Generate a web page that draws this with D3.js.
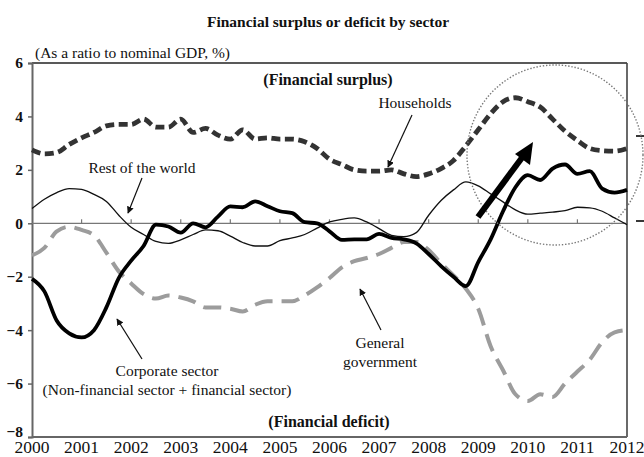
<!DOCTYPE html>
<html>
<head>
<meta charset="utf-8">
<script src="https://cdn.jsdelivr.net/npm/d3@7"></script>
<style>
  body { margin: 0; background: #fff; }
  svg text { font-family: 'Liberation Serif', 'Times New Roman', 'DejaVu Serif', serif !important; fill: #111; }
  .title { font-weight: bold; font-size: 15.5px; }
  .bold { font-weight: bold; font-size: 16px; }
  .note { font-size: 15.5px; }
  .ylab { font-weight: bold; font-size: 15.5px; }
  .xlab { font-size: 17.5px; }
</style>
</head>
<body>
<svg width="644" height="457"></svg>
<script>
// **** Data (quarterly, 2000 Q1 - 2012 Q1), % of nominal GDP ****
var years = [2000, 2001, 2002, 2003, 2004, 2005, 2006, 2007, 2008, 2009, 2010, 2011, 2012];
var yTicks = [-8, -6, -4, -2, 0, 2, 4, 6];

var households = [2.75, 2.6, 2.65, 2.95, 3.2, 3.4, 3.65, 3.7, 3.7, 3.9, 3.6, 3.6, 3.9,
  3.4, 3.55, 3.3, 3.15, 3.5, 3.15, 3.2, 3.15, 3.15, 3.05, 2.8, 2.4, 2.2, 2.0, 1.95,
  1.95, 2.0, 1.85, 1.75, 1.85, 2.05, 2.35, 2.9, 3.5, 4.1, 4.55, 4.7, 4.55, 4.35,
  3.9, 3.45, 3.1, 2.8, 2.72, 2.7, 2.8];

var restOfWorld = [0.55, 0.9, 1.15, 1.3, 1.27, 1.08, 0.82, 0.3, -0.15, -0.42, -0.68,
  -0.75, -0.62, -0.42, -0.25, -0.28, -0.48, -0.72, -0.85, -0.85, -0.65, -0.55, -0.42,
  -0.18, 0.05, 0.15, 0.2, 0.05, -0.2, -0.45, -0.5, -0.35, 0.3, 0.85, 1.25, 1.55, 1.4,
  1.1, 0.8, 0.5, 0.34, 0.38, 0.42, 0.47, 0.6, 0.58, 0.45, 0.2, -0.05];

var corporate = [-2.08, -2.55, -3.65, -4.12, -4.27, -4.0, -3.15, -2.05, -1.4, -0.85,
  -0.05, -0.12, -0.35, 0.0, -0.15, 0.25, 0.63, 0.6, 0.82, 0.64, 0.45, 0.38, 0.04, 0.0,
  -0.3, -0.62, -0.6, -0.6, -0.4, -0.55, -0.6, -0.75, -1.15, -1.6, -2.0, -2.35, -1.45,
  -0.6, 0.45, 1.35, 1.8, 1.62, 2.05, 2.2, 1.85, 1.95, 1.3, 1.15, 1.25];

var government = [-1.2, -0.92, -0.3, -0.13, -0.25, -0.45, -1.1, -1.8, -2.25, -2.65,
  -2.82, -2.7, -2.78, -2.92, -3.15, -3.15, -3.2, -3.3, -3.05, -2.92, -2.92, -2.92,
  -2.7, -2.4, -2.05, -1.65, -1.42, -1.3, -1.15, -0.92, -0.7, -0.7, -1.0, -1.5, -1.95,
  -2.45, -3.2, -4.6, -5.5, -6.4, -6.65, -6.4, -6.5, -6.0, -5.55, -5.1, -4.45, -4.08, -4.0];

// **** Scales ****
var xScale = d3.scaleLinear().domain([2000, 2012]).range([32, 627]);
var yScale = d3.scaleLinear().domain([-8, 6]).range([437, 63]);

var svg = d3.select('svg');

svg.append('defs').append('marker')
  .attr('id', 'arr')
  .attr('viewBox', '0 0 10 10')
  .attr('refX', 9).attr('refY', 5)
  .attr('markerWidth', 7).attr('markerHeight', 7)
  .attr('markerUnits', 'userSpaceOnUse')
  .attr('orient', 'auto')
  .append('path').attr('d', 'M0,0 L10,5 L0,10 z').attr('fill', '#111');

function qx(d, i) { return xScale(2000 + i * 0.25); }

// frame: top and right black, left/bottom grey
svg.append('line').attr('x1', 32).attr('x2', 627).attr('y1', 63).attr('y2', 63)
  .attr('stroke', '#222').attr('stroke-width', 1.6);
svg.append('line').attr('x1', 627).attr('x2', 627).attr('y1', 63).attr('y2', 437)
  .attr('stroke', '#444').attr('stroke-width', 1.6);
svg.append('line').attr('x1', 32).attr('x2', 627).attr('y1', 437).attr('y2', 437)
  .attr('stroke', '#666').attr('stroke-width', 2);

// y axis
var yAxis = svg.append('g').attr('class', 'y axis')
  .attr('transform', 'translate(32,0)')
  .call(d3.axisLeft(yScale).tickValues(yTicks).tickSize(4).tickPadding(5));
yAxis.attr('font-family', null).attr('font-size', null);
yAxis.select('.domain').attr('stroke', '#666').attr('stroke-width', 2);
yAxis.selectAll('.tick line').attr('stroke', '#666').attr('stroke-width', 1.5);
yAxis.selectAll('text').attr('class', 'ylab');
yAxis.selectAll('.tick').filter(function (d) { return d === -8; })
  .select('text').attr('dy', '-0.05em');

// zero line with inner year ticks
svg.append('line').attr('x1', 32).attr('x2', 627)
  .attr('y1', yScale(0)).attr('y2', yScale(0))
  .attr('stroke', '#777').attr('stroke-width', 1.3);
svg.selectAll('.ztick').data(years.slice(1, -1)).enter()
  .append('line').attr('class', 'ztick')
  .attr('x1', function (d) { return xScale(d); })
  .attr('x2', function (d) { return xScale(d); })
  .attr('y1', yScale(0)).attr('y2', yScale(0) - 4)
  .attr('stroke', '#777').attr('stroke-width', 1.2);

// year labels
svg.selectAll('.xlab').data(years).enter()
  .append('text').attr('class', 'xlab')
  .attr('x', function (d) { return xScale(d); })
  .attr('y', 453)
  .attr('text-anchor', 'middle')
  .text(function (d) { return d; });

// right side marks
[136, 221].forEach(function (y) {
  svg.append('line').attr('x1', 636).attr('x2', 644).attr('y1', y).attr('y2', y)
    .attr('stroke', '#222').attr('stroke-width', 1.8);
});

// lines
var line = d3.line().x(qx).y(function (d) { return yScale(d); }).curve(d3.curveMonotoneX);

svg.append('path').datum(government).attr('d', line)
  .attr('fill', 'none').attr('stroke', '#9c9c9c').attr('stroke-width', 4)
  .attr('stroke-dasharray', '18,9');

svg.append('path').datum(restOfWorld).attr('d', line)
  .attr('fill', 'none').attr('stroke', '#111').attr('stroke-width', 1.3);

svg.append('path').datum(households).attr('d', line)
  .attr('fill', 'none').attr('stroke', '#333').attr('stroke-width', 4.8)
  .attr('stroke-dasharray', '9,4.5');

svg.append('path').datum(corporate).attr('d', line)
  .attr('fill', 'none').attr('stroke', '#000').attr('stroke-width', 3.8)
  .attr('stroke-linejoin', 'round');

// dotted circle
svg.append('ellipse').attr('cx', 555).attr('cy', 155).attr('rx', 88).attr('ry', 90)
  .attr('fill', 'none').attr('stroke', '#777').attr('stroke-width', 1.4)
  .attr('stroke-dasharray', '1.4,1.8');

// big arrow
svg.append('line').attr('x1', 478).attr('y1', 217).attr('x2', 524).attr('y2', 155)
  .attr('stroke', '#000').attr('stroke-width', 6);
svg.append('path').attr('d', 'M533,142 L515,154 L530,165 Z').attr('fill', '#000');

// annotation arrows
function arrow(x1, y1, x2, y2) {
  svg.append('line').attr('x1', x1).attr('y1', y1).attr('x2', x2).attr('y2', y2)
    .attr('stroke', '#111').attr('stroke-width', 1.2).attr('marker-end', 'url(#arr)');
}
arrow(142, 178, 128, 213);
arrow(412, 115, 388, 167);
arrow(142, 359, 117, 319);
arrow(381, 330, 360, 289);

// texts
svg.append('text').attr('class', 'title').attr('x', 328).attr('y', 27)
  .attr('text-anchor', 'middle').text('Financial surplus or deficit by sector');
svg.append('text').attr('class', 'note').attr('x', 35).attr('y', 58)
  .text('(As a ratio to nominal GDP, %)');
svg.append('text').attr('class', 'bold').attr('x', 328).attr('y', 85)
  .attr('text-anchor', 'middle').text('(Financial surplus)');
svg.append('text').attr('class', 'bold').attr('x', 329).attr('y', 427)
  .attr('text-anchor', 'middle').text('(Financial deficit)');
svg.append('text').attr('class', 'note').attr('x', 415).attr('y', 108)
  .attr('text-anchor', 'middle').text('Households');
svg.append('text').attr('class', 'note').attr('x', 142).attr('y', 173)
  .attr('text-anchor', 'middle').text('Rest of the world');
svg.append('text').attr('class', 'note').attr('x', 167).attr('y', 376)
  .attr('text-anchor', 'middle').text('Corporate sector');
svg.append('text').attr('class', 'note').attr('x', 167).attr('y', 395)
  .attr('text-anchor', 'middle').text('(Non-financial sector + financial sector)');
svg.append('text').attr('class', 'note').attr('x', 380).attr('y', 348)
  .attr('text-anchor', 'middle').text('General');
svg.append('text').attr('class', 'note').attr('x', 380).attr('y', 367)
  .attr('text-anchor', 'middle').text('government');
</script>
</body>
</html>
